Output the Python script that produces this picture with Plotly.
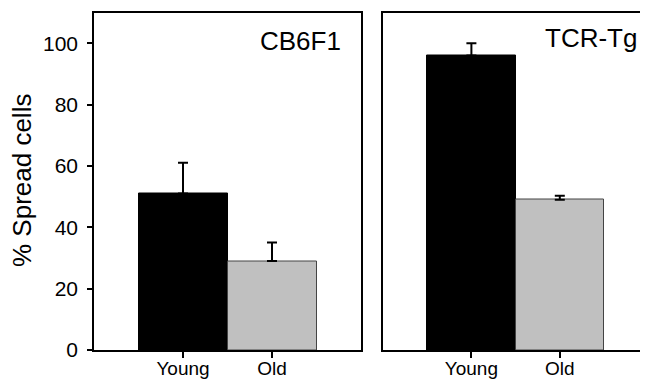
import plotly.graph_objects as go

categories = ["Young", "Old"]
cb6f1_values = [51, 29]
cb6f1_errors = [10, 6]
tcr_values = [96, 49]
tcr_errors = [4, 1.3]
panel_labels = ["CB6F1", "TCR-Tg"]
bar_colors = ["#000000", "#c0c0c0"]
y_ticks = [0, 20, 40, 60, 80, 100]

# page body has an 8px margin on every side; work in window pixels and shift
OFF = 8
W, H = 648 - 2 * OFF, 392 - 2 * OFF
FONT = "Liberation Sans, Arial, Helvetica, sans-serif"

def px(xw):
    return min(1.0, (xw - OFF) / W)

def py(yw):
    return (H - (yw - OFF)) / H

fig = go.Figure()

def add_panel(vals, errs, xa, ya):
    fig.add_trace(go.Bar(
        x=[0, 1], y=vals, xaxis=xa, yaxis=ya, width=1.0,
        marker=dict(color=bar_colors, line=dict(color=["#000000", "#444444"], width=1)),
        error_y=dict(type="data", symmetric=False, array=errs, arrayminus=[0, 0],
                     color="#000000", thickness=2, width=5),
        showlegend=False, hoverinfo="skip",
    ))

add_panel(cb6f1_values, cb6f1_errors, "x", "y")
add_panel(tcr_values, tcr_errors, "x2", "y2")

common_x = dict(tickvals=[0, 1], ticktext=categories, ticks="outside",
                ticklen=6, tickwidth=1.5, tickcolor="#000", showline=True, linecolor="#000",
                linewidth=1.5, showgrid=False, zeroline=False, ticklabelstandoff=-6,
                automargin=False,
                tickfont=dict(family=FONT, size=19, color="#000"), fixedrange=True)

# right panel runs past the window edge in the reference: clip range accordingly
right_end = -1 + (640 - 383) / 88.4

fig.update_layout(
    width=W, height=H,
    margin=dict(l=0, r=0, t=0, b=0, autoexpand=False),
    paper_bgcolor="white", plot_bgcolor="white",
    font=dict(family=FONT, color="#000"),
    bargap=0,
    xaxis=dict(domain=[px(94), px(361)], range=[-1, 2], mirror=True, anchor="y", **common_x),
    xaxis2=dict(domain=[px(383), 1.0], range=[-1, right_end], mirror=True, anchor="y2", **common_x),
    yaxis=dict(domain=[py(350), py(12.5)], range=[0, 110], tickvals=y_ticks, ticks="outside",
               ticklen=5, tickwidth=1.5, tickcolor="#000", showline=True, linecolor="#000",
               linewidth=1.5, mirror=True, showgrid=False, zeroline=False, anchor="x",
               ticklabelstandoff=5, automargin=False,
               tickfont=dict(family=FONT, size=21, color="#000")),
    yaxis2=dict(domain=[py(350), py(12.5)], range=[0, 110], showticklabels=False, ticks="",
                showline=True, linecolor="#000", linewidth=1.5, mirror=False,
                automargin=False,
                showgrid=False, zeroline=False, anchor="x2"),
)

fig.add_annotation(text="% Spread cells", x=px(22), y=py(181), xref="paper", yref="paper",
                   textangle=-90, showarrow=False, xanchor="center", yanchor="middle",
                   font=dict(family=FONT, size=26, color="#000"))
fig.add_annotation(text=panel_labels[0], x=px(343), y=py(41), xref="paper", yref="paper",
                   showarrow=False, xanchor="right", yanchor="middle",
                   font=dict(family=FONT, size=26, color="#000"))
fig.add_annotation(text=panel_labels[1], x=px(639), y=py(38), xref="paper", yref="paper",
                   showarrow=False, xanchor="right", yanchor="middle",
                   font=dict(family=FONT, size=26, color="#000"))

fig.write_html("out.html")
